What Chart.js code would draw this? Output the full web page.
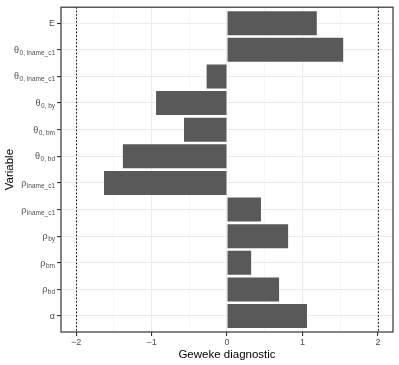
<!DOCTYPE html>
<html>
<head>
<meta charset="utf-8">
<script src="https://cdn.jsdelivr.net/npm/chart.js@4.4.1/dist/chart.umd.min.js"></script>
<style>
  html, body { margin: 0; padding: 0; background: #fff; }
  #wrap { width: 399px; height: 365px; }
</style>
</head>
<body>
<div id="wrap"><canvas id="gewekeChart"></canvas></div>
<script>
// Variablen von oben nach unten
const symbols    = ['E', 'θ', 'θ', 'θ', 'θ', 'θ', 'ρ', 'ρ', 'ρ', 'ρ', 'ρ', 'α'];
const subscripts = ['', '0, lname_c1', '0, lname_c1', '0, by', '0, bm', '0, bd', 'lname_c1', 'lname_c1', 'by', 'bm', 'bd', ''];
const gewekeValues = [1.19, 1.54, -0.27, -0.94, -0.57, -1.38, -1.63, 0.45, 0.81, 0.32, 0.69, 1.06];
const xTicks = [-2, -1.5, -1, -0.5, 0, 0.5, 1, 1.5, 2];
const refLines = [-2, 2];

const FONT = '"Liberation Sans", Arial, sans-serif';

/* y-Achsenbeschriftung mit Tiefstellung + Rahmen + Referenzlinien */
const decorPlugin = {
    id: 'decor',
    afterDatasetsDraw(chart) {
        const { ctx, chartArea: a, scales } = chart;
        ctx.save();
        // gepunktete Linien bei ±2
        ctx.strokeStyle = '#000';
        ctx.lineWidth = 1;
        ctx.setLineDash([1.5, 2]);
        refLines.forEach((v) => {
            const x = Math.round(scales.x.getPixelForValue(v)) + 0.5;
            ctx.beginPath();
            ctx.moveTo(x, a.top);
            ctx.lineTo(x, a.bottom);
            ctx.stroke();
        });
        ctx.setLineDash([]);
        // Panel-Rahmen
        ctx.strokeStyle = '#333333';
        ctx.lineWidth = 1.2;
        ctx.strokeRect(a.left, a.top, a.right - a.left, a.bottom - a.top);
        ctx.restore();
    },
    afterDraw(chart) {
        const { ctx, chartArea: a, scales } = chart;
        ctx.save();
        ctx.fillStyle = '#4D4D4D';
        ctx.textBaseline = 'alphabetic';
        ctx.textAlign = 'left';
        symbols.forEach((sym, i) => {
            const y = scales.y.getPixelForValue(i + 1);
            const right = a.left - 6;
            ctx.font = `9px ${FONT}`;
            const wMain = ctx.measureText(sym).width;
            ctx.font = `6.5px ${FONT}`;
            const wSub = subscripts[i] ? ctx.measureText(subscripts[i]).width + 0.5 : 0;
            const start = right - wMain - wSub;
            ctx.font = `9px ${FONT}`;
            ctx.fillText(sym, start, y + 3);
            if (subscripts[i]) {
                ctx.font = `6.5px ${FONT}`;
                ctx.fillText(subscripts[i], start + wMain + 0.5, y + 5);
            }
        });
        ctx.restore();
    }
};

const barData = gewekeValues.map((v, i) => ({ x: v, y: i + 1 }));

new Chart(document.getElementById('gewekeChart').getContext('2d'), {
    type: 'bar',
    data: {
        datasets: [{
            data: barData,
            backgroundColor: '#595959',
            borderWidth: 0,
            barPercentage: 0.9,
            categoryPercentage: 1
        }]
    },
    options: {
        indexAxis: 'y',
        responsive: true,
        maintainAspectRatio: false,
        animation: false,
        layout: { padding: { top: 4, right: 6, left: 0, bottom: 0 } },
        plugins: { legend: { display: false }, tooltip: { enabled: false } },
        scales: {
            x: {
                type: 'linear',
                min: -2.2,
                max: 2.2,
                afterBuildTicks: (s) => { s.ticks = xTicks.map((v) => ({ value: v })); },
                afterFit: (s) => { s.height = 33; },
                border: { display: false },
                grid: {
                    color: (c) => Number.isInteger(c.tick.value) ? '#EBEBEB' : '#F2F2F2',
                    lineWidth: (c) => Number.isInteger(c.tick.value) ? 1.1 : 0.6,
                    tickColor: (c) => Number.isInteger(c.tick.value) ? '#333333' : 'rgba(0,0,0,0)',
                    tickLength: 4
                },
                ticks: {
                    autoSkip: false,
                    maxRotation: 0,
                    padding: 1,
                    color: '#4D4D4D',
                    font: { family: FONT, size: 9 },
                    callback: (v) => Number.isInteger(v) ? String(v).replace('-', '−') : ''
                },
                title: {
                    display: true,
                    text: 'Geweke diagnostic',
                    color: '#000',
                    font: { family: FONT, size: 11.5 },
                    padding: { top: 0, bottom: 3 }
                }
            },
            y: {
                type: 'linear',
                reverse: true,
                offset: false,
                min: 0.4,
                max: 12.6,
                afterBuildTicks: (s) => { s.ticks = symbols.map((_, i) => ({ value: i + 1 })); },
                afterFit: (s) => { s.width = 61; },
                border: { display: false },
                grid: {
                    offset: false,
                    color: '#EBEBEB',
                    lineWidth: 1.1,
                    tickColor: '#333333',
                    tickLength: 4
                },
                ticks: { callback: () => '', padding: 0 },
                title: {
                    display: true,
                    text: 'Variable',
                    color: '#000',
                    font: { family: FONT, size: 11.5 },
                    padding: { top: 3, bottom: 0 }
                }
            }
        }
    },
    plugins: [decorPlugin]
});
</script>
</body>
</html>
